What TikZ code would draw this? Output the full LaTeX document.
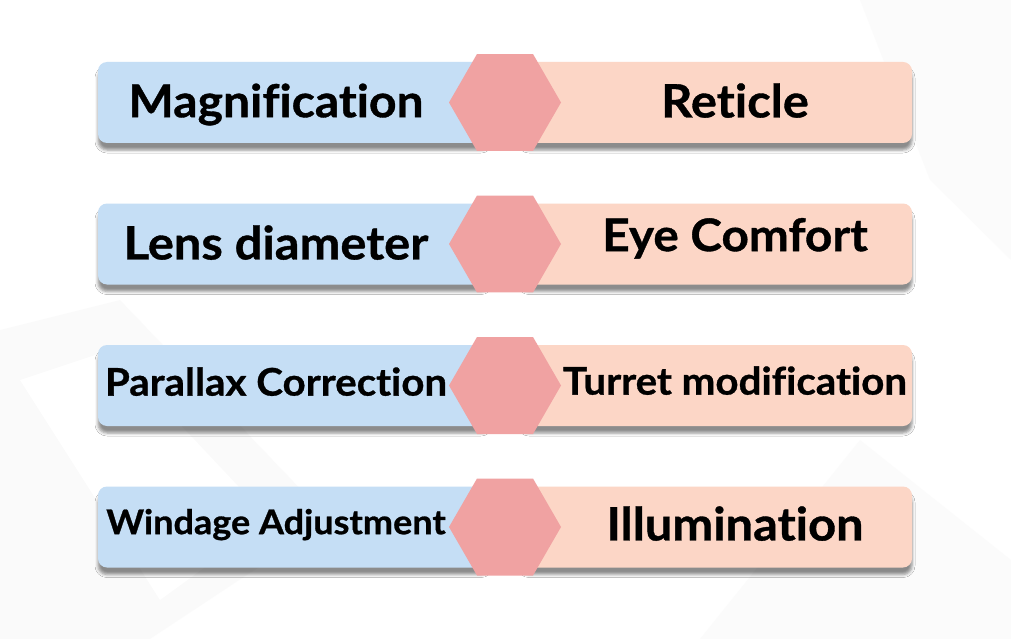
\documentclass[tikz,border=0pt]{standalone}
\usepackage{fontspec}
\setmainfont{Lato}[Ligatures=NoCommon, FakeStretch=1.06, BoldFeatures={FakeBold=0.8}]
\usetikzlibrary{shapes.geometric,shadows.blur,positioning}
\definecolor{lensblue}{RGB}{197,222,245}
\definecolor{peach}{RGB}{252,214,198}
\definecolor{hexpink}{RGB}{240,162,162}
\definecolor{backdrop}{RGB}{243,243,243}
\tikzstyle{featbox} = [
    rectangle,
    rounded corners=9pt,
    minimum width=392pt,
    minimum height=81pt,
    inner sep=0pt,
    blur shadow={shadow xshift=0pt, shadow yshift=-7pt, shadow opacity=45, shadow blur radius=3pt}
]
\tikzstyle{hexa} = [
    regular polygon,
    regular polygon sides=6,
    minimum size=112pt,
    inner sep=0pt,
    fill=hexpink
]
\tikzstyle{feattext} = [
    text=black,
    inner sep=0pt,
    anchor=base
]
\begin{document}
\begin{tikzpicture}[x=1pt,y=-1pt]
    \fill[white] (0,0) rectangle (1011,639);
    % faint backdrop shapes
    \fill[backdrop, opacity=0.35] (0,330) -- (120,300) -- (330,520) -- (150,639) -- (0,639) -- cycle;
    \fill[white] (20,380) -- (110,350) -- (270,520) -- (160,600) -- cycle;
    \fill[backdrop, opacity=0.3] (860,0) -- (1011,0) -- (1011,260) -- (930,180) -- cycle;
    \fill[backdrop, opacity=0.3] (700,639) -- (860,440) -- (1011,560) -- (1011,639) -- cycle;
    \useasboundingbox (0,0) rectangle (1011,639);
    \foreach \l/\r/\ls/\rs/\ly/\ry [count=\i] in {
        Magnification/Reticle/45.3/46/101/101,
        Lens diameter/Eye Comfort/46/45/243/235,
        Parallax Correction/Turret modification/38/38/382/381,
        Windage Adjustment/Illumination/34/46/522/524
    } {
        \pgfmathsetmacro\y{102.5+(\i-1)*141.5}
        \node[featbox, fill=lensblue] (L\i) at (294,\y) {};
        \node[featbox, fill=peach] (R\i) at (716,\y) {};
        \node[hexa] (H\i) at (505,\y) {};
        \node[feattext, font=\bfseries\fontsize{\ls}{\ls}\selectfont]
            (LT\i) at (276,{\ly+0.358*\ls}) {\l};
        \node[feattext, font=\bfseries\fontsize{\rs}{\rs}\selectfont]
            (RT\i) at (735,{\ry+0.358*\rs}) {\r};
    }
\end{tikzpicture}
\end{document}
